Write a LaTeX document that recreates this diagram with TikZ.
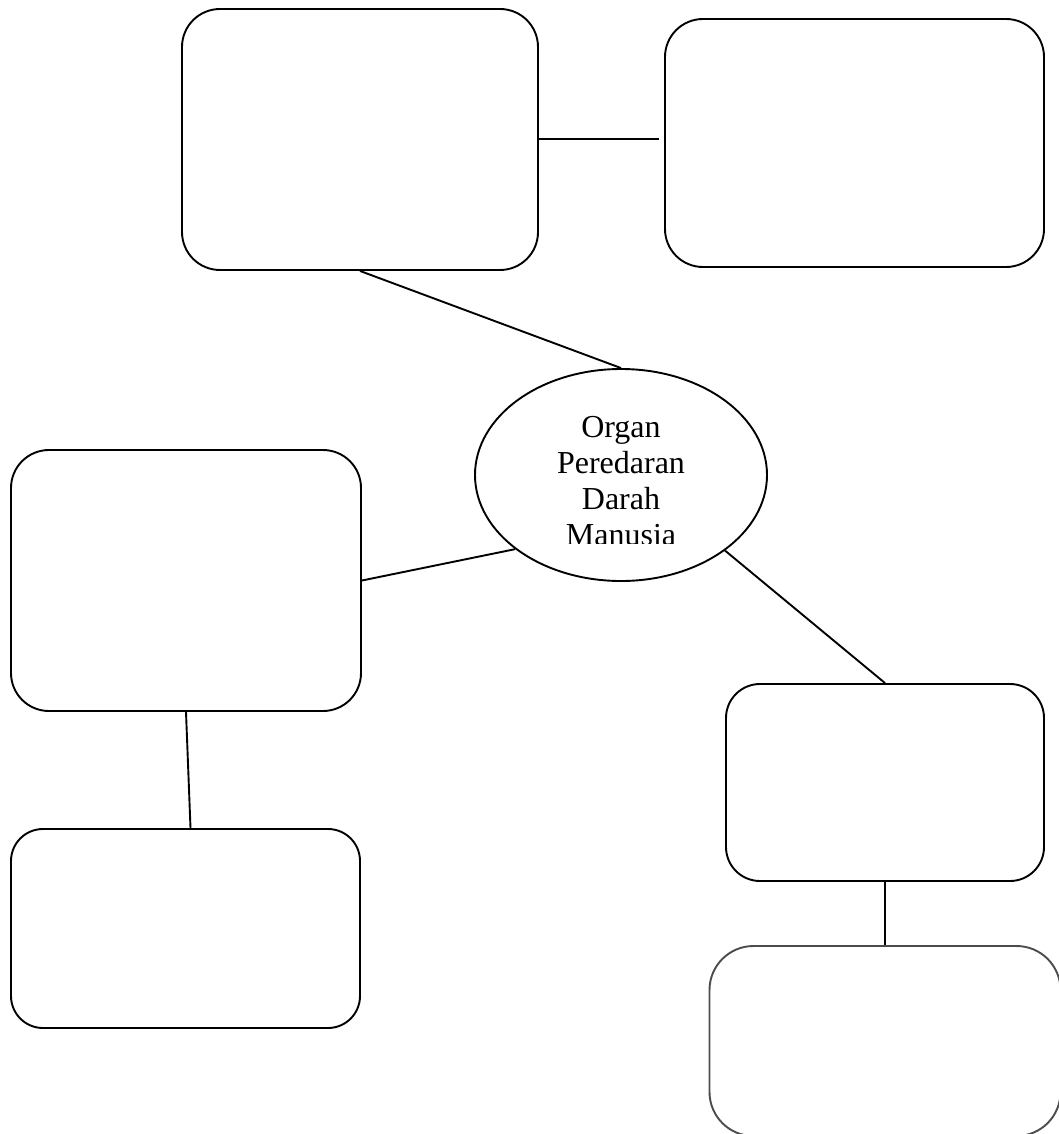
\documentclass[tikz,border=0pt]{standalone}
\usepackage{fontspec}
\setmainfont{Liberation Serif}
\usetikzlibrary{shapes.geometric}
\begin{document}
\begin{tikzpicture}[x=1pt,y=-1pt,
  box/.style={draw=black,line width=1.9pt,rounded corners=38pt,inner sep=0pt},
  ell/.style={draw=black,line width=1.9pt,ellipse,inner sep=0pt,minimum width=292pt,minimum height=212pt},
  conn/.style={draw=black,line width=1.9pt},
  lbl/.style={font=\fontsize{32}{36}\selectfont,align=center,inner sep=0pt}]
\useasboundingbox (0,0) rectangle (1058,1134);
\node[box,minimum width=356pt,minimum height=261pt] (A) at (360,139.5) {};
\node[box,minimum width=379pt,minimum height=248pt] (B) at (854.5,143) {};
\node[box,minimum width=350pt,minimum height=261pt] (C) at (186,580.5) {};
\node[box,minimum width=349pt,minimum height=199pt,rounded corners=32pt] (D) at (185.5,928.5) {};
\node[box,minimum width=318pt,minimum height=197pt,rounded corners=34pt] (E) at (885,782.5) {};
\node[box,draw=gray!60!black,minimum width=351pt,minimum height=190pt,rounded corners=44pt] (F) at (885,1041) {};
\node[ell] (O) at (621,475) {};
\begin{scope}
  \clip (480,380) rectangle (760,543);
  \node[lbl] (T) at (621,481) {Organ\\Peredaran\\Darah\\Manusia};
\end{scope}
\draw[conn,shorten >=5pt] ([yshift=0.5pt]A.east) -- ([yshift=0.5pt]A.east -| B.west);
\draw[conn] (A.south) -- (O.north);
\draw[conn] (C.east) -- (O.215.7);
\draw[conn] (O.324.6) -- (E.north);
\draw[conn] (C.south) -- ([xshift=5pt]D.north);
\draw[conn] (E.south) -- (F.north);
\end{tikzpicture}
\end{document}
